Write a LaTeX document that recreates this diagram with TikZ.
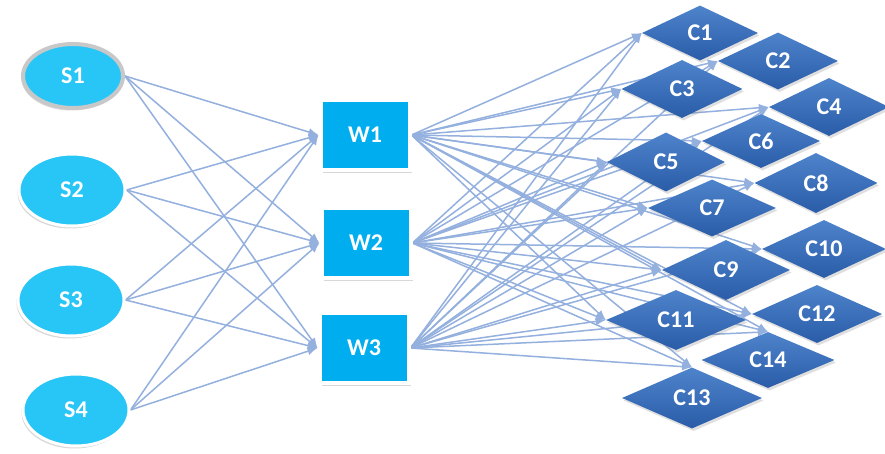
\documentclass[tikz,border=0pt]{standalone}
\usepackage{fontspec}
\setmainfont{Carlito}
\usetikzlibrary{shapes.geometric,arrows.meta,shadows}
\definecolor{ellfill}{RGB}{40,198,246}
\definecolor{wfill}{RGB}{0,174,239}
\definecolor{dtop}{RGB}{78,132,204}
\definecolor{dbot}{RGB}{42,92,168}
\definecolor{lineblue}{RGB}{148,176,222}
\definecolor{ringgray}{RGB}{200,200,200}
\pgfdeclarelayer{back}
\pgfdeclarelayer{bg}
\pgfsetlayers{back,bg,main}
\begin{document}
\begin{tikzpicture}[x=1pt,y=-1pt,
  lbl/.style={text=white,font=\fontsize{24}{28}\selectfont\bfseries},
  snode/.style={ellipse,lbl,fill=ellfill,draw=white,line width=3pt,
    minimum width=106pt,minimum height=72pt,inner sep=0pt,
    drop shadow={shadow xshift=-1.5pt,shadow yshift=-2.5pt,opacity=0.3}},
  s1node/.style={snode,draw=ringgray,line width=4pt,minimum width=100pt,minimum height=64pt},
  wnode/.style={rectangle,lbl,fill=wfill,draw=white,line width=4pt,
    minimum width=89pt,minimum height=70pt,inner sep=0pt,
    drop shadow={shadow xshift=2pt,shadow yshift=-3pt,opacity=0.3}},
  cnode/.style={diamond,lbl,minimum width=#1,minimum height=58pt,
    inner sep=0pt,top color=dtop,bottom color=dbot,
    drop shadow={shadow xshift=1.5pt,shadow yshift=-2.5pt,opacity=0.25}},
  cnode/.default=120pt,
  conn/.style={draw=lineblue,line width=1.5pt,-{Latex[length=10pt,width=8pt]}}
]
\useasboundingbox (0,0) rectangle (885,454);
\begin{pgfonlayer}{back}
\fill[white] (0,0) rectangle (885,454);
\end{pgfonlayer}
% sources
\node[s1node] (S1) at (73,76) {S1};
\node[snode] (S2) at (72,190) {S2};
\node[snode] (S3) at (71,300) {S3};
\node[snode] (S4) at (76,410) {S4};
% warehouses
\node[wnode] (W1) at (365,135) {W1};
\node[wnode] (W2) at (366,243) {W2};
\node[wnode] (W3) at (364,348) {W3};
% customers
\node[cnode=116pt,minimum height=55pt] (C1) at (700,33) {C1};
\node[cnode=120pt,minimum height=57pt] (C2) at (778,61) {C2};
\node[cnode=121pt] (C3) at (682,89) {C3};
\node[cnode=120pt] (C4) at (829,107) {C4};
\node[cnode=118pt,minimum height=54pt] (C6) at (761,141) {C6};
\node[cnode=118pt,minimum height=59pt] (C5) at (666,162) {C5};
\node[cnode=123pt,minimum height=60pt] (C8) at (816,183) {C8};
\node[cnode=128pt,minimum height=57pt] (C7) at (712,208) {C7};
\node[cnode=124pt] (C10) at (824,249) {C10};
\node[cnode=128pt,minimum height=60pt] (C9) at (726,270) {C9};
\node[cnode=130pt] (C12) at (817,314) {C12};
\node[cnode=140pt,minimum height=60pt] (C11) at (676,320) {C11};
\node[cnode=133pt,minimum height=56pt] (C14) at (768,360) {C14};
\node[cnode=140pt,minimum height=61pt] (C13) at (692,398) {C13};
% connectors
\begin{pgfonlayer}{bg}
\foreach \s in {S1,S2,S3,S4}
  \foreach \w in {W1,W2,W3}
    \draw[conn] (\s.east) -- (\w.west);
\foreach \w in {W1,W2,W3}
  \foreach \c/\a in {C1/west,C2/west,C3/west,C4/west,C5/west,C6/west,C7/west,
                     C8/west,C9/west,C10/west,C11/west,C12/west,C13/north,C14/north}
    \draw[conn] (\w.east) -- (\c.\a);
\end{pgfonlayer}
\end{tikzpicture}
\end{document}
